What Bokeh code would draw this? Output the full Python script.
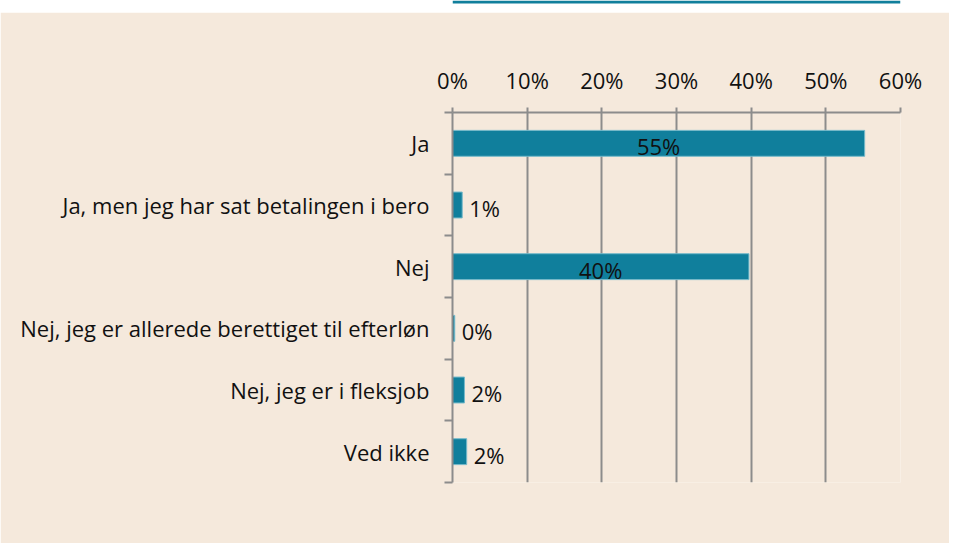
from bokeh.plotting import figure
from bokeh.models import Range1d, FixedTicker, ColumnDataSource
from bokeh.layouts import column
from bokeh.embed import file_html
from bokeh.resources import INLINE
from bokeh.core.properties import value

categories = [
    "Ja",
    "Ja, men jeg har sat betalingen i bero",
    "Nej",
    "Nej, jeg er allerede berettiget til efterløn",
    "Nej, jeg er i fleksjob",
    "Ved ikke",
]
values = [55.2, 1.3, 39.7, 0.3, 1.6, 1.9]
x_ticks = [0, 10, 20, 30, 40, 50, 60]
x_tick_labels = ["0%", "10%", "20%", "30%", "40%", "50%", "60%"]

BG = "#f5e9dc"
TEAL = "#107f9c"
GRAY = "#8c8c8c"
FONT = "Open Sans"
FS = "22px"

ys = list(range(len(categories)))

# header strip: teal rule on white
head = figure(width=949, height=12, output_backend="svg", toolbar_location=None,
              min_border=0, x_axis_type=None, y_axis_type=None,
              x_range=Range1d(0, 1), y_range=Range1d(0, 12))
head.background_fill_color = "#ffffff"
head.border_fill_color = "#ffffff"
head.outline_line_color = None
head.grid.visible = False
head.quad(left=[0], right=[1], bottom=[9], top=[12], fill_color=TEAL, line_color=None)

p = figure(
    width=949, height=531,
    x_range=Range1d(0, 60), y_range=Range1d(len(categories) - 0.5, -0.5),
    x_axis_location="above",
    output_backend="svg", toolbar_location=None,
    min_border_left=452, min_border_right=49, min_border_top=100, min_border_bottom=61,
)
p.background_fill_color = BG
p.border_fill_color = BG
p.outline_line_color = None

p.hbar(y=ys, left=0, right=values, height=0.42,
       fill_color=TEAL, line_color="#74b9ca", line_width=1)

lx, ly, lt, la, lo = [], [], [], [], []
for y, v in zip(ys, values):
    lt.append(f"{round(v)}%")
    ly.append(y)
    if v >= 10:
        lx.append(v / 2); la.append("center"); lo.append(0)
    else:
        lx.append(v); la.append("left"); lo.append(7)
src = ColumnDataSource(dict(x=lx, y=ly, text=lt, align=la, xoff=lo))
p.text(x="x", y="y", text="text", source=src, text_align="align", x_offset="xoff",
       y_offset=3, text_baseline="middle", text_font=value(FONT),
       text_font_size=FS, text_color="#111111")

xa = p.xaxis[0]
xa.ticker = FixedTicker(ticks=x_ticks)
xa.major_label_overrides = {t: l for t, l in zip(x_ticks, x_tick_labels)}
xa.major_tick_in = 0
xa.major_tick_out = 5
xa.minor_tick_in = 0
xa.minor_tick_out = 0
xa.axis_line_color = GRAY
xa.axis_line_width = 2
xa.major_tick_line_color = GRAY
xa.major_tick_line_width = 2
xa.major_label_standoff = 13
xa.major_label_text_font = FONT
xa.major_label_text_font_size = FS
xa.major_label_text_color = "#111111"

ya = p.yaxis[0]
ya.ticker = FixedTicker(ticks=ys, minor_ticks=[y - 0.5 for y in ys] + [len(ys) - 0.5])
ya.major_label_overrides = {y: c for y, c in zip(ys, categories)}
ya.major_tick_in = 0
ya.major_tick_out = 0
ya.minor_tick_in = 0
ya.minor_tick_out = 8
ya.minor_tick_line_color = GRAY
ya.minor_tick_line_width = 2
ya.axis_line_color = GRAY
ya.axis_line_width = 2
ya.major_label_standoff = 15
ya.major_label_text_font = FONT
ya.major_label_text_font_size = FS
ya.major_label_text_color = "#111111"

p.xgrid.ticker = FixedTicker(ticks=x_ticks)
p.xgrid.grid_line_color = GRAY
p.xgrid.grid_line_width = 2
p.ygrid.grid_line_color = None

layout = column(head, p, spacing=0)

open("out.html", "w").write(file_html(layout, INLINE))
